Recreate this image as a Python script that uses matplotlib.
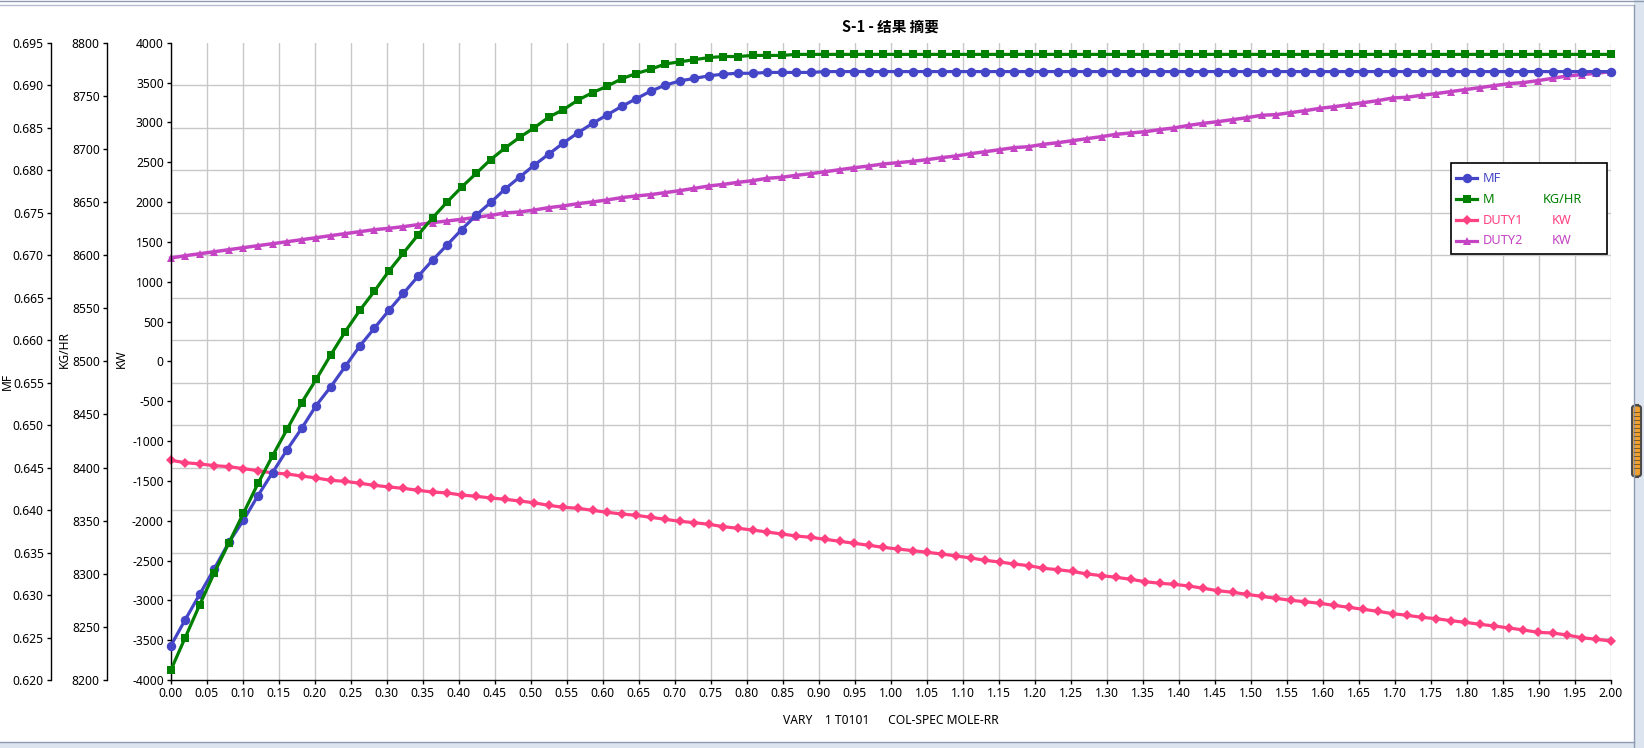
import numpy as np
import matplotlib
matplotlib.use('Agg')
import matplotlib.pyplot as plt
from matplotlib.lines import Line2D
from matplotlib.patches import Rectangle, FancyBboxPatch
from matplotlib.ticker import FormatStrFormatter

plt.rcParams['font.family'] = ['Noto Sans', 'Noto Sans CJK SC', 'DejaVu Sans']
plt.rcParams['axes.unicode_minus'] = False

# sweep: COL-SPEC MOLE-RR from 0 to 2, 100 points
rr = np.linspace(0.0, 2.0, 100)

mf = [0.6240, 0.6271, 0.6301, 0.6331, 0.6362, 0.6388, 0.6417, 0.6444, 0.6471, 0.6496,
      0.6523, 0.6545, 0.6569, 0.6593, 0.6614, 0.6635, 0.6655, 0.6675, 0.6694, 0.6712,
      0.6730, 0.6747, 0.6762, 0.6778, 0.6792, 0.6806, 0.6819, 0.6832, 0.6844, 0.6855,
      0.6865, 0.6875, 0.6884, 0.6893, 0.6900, 0.6905, 0.6908, 0.6911, 0.6913, 0.6914,
      0.6914, 0.6915, 0.6915, 0.6915, 0.6915, 0.6916, 0.6916, 0.6916, 0.6916, 0.6916,
      0.6916, 0.6916, 0.6916, 0.6916, 0.6916, 0.6916, 0.6916, 0.6916, 0.6916, 0.6916,
      0.6916, 0.6916, 0.6916, 0.6916, 0.6916, 0.6916, 0.6916, 0.6916, 0.6916, 0.6916,
      0.6916, 0.6916, 0.6916, 0.6916, 0.6916, 0.6916, 0.6916, 0.6916, 0.6916, 0.6916,
      0.6916, 0.6916, 0.6916, 0.6916, 0.6916, 0.6916, 0.6916, 0.6916, 0.6916, 0.6916,
      0.6916, 0.6916, 0.6916, 0.6916, 0.6916, 0.6916, 0.6916, 0.6916, 0.6916, 0.6916]

m_kghr = [8209, 8240, 8271, 8301, 8329, 8357, 8385, 8411, 8436, 8461,
          8483, 8506, 8528, 8548, 8566, 8585, 8602, 8619, 8635, 8650,
          8664, 8677, 8690, 8701, 8711, 8720, 8730, 8737, 8746, 8753,
          8759, 8766, 8771, 8775, 8780, 8782, 8784, 8786, 8787, 8787,
          8788, 8788, 8788, 8789, 8789, 8789, 8789, 8789, 8789, 8789,
          8789, 8789, 8789, 8789, 8789, 8789, 8789, 8789, 8789, 8789,
          8789, 8789, 8789, 8789, 8789, 8789, 8789, 8789, 8789, 8789,
          8789, 8789, 8789, 8789, 8789, 8789, 8789, 8789, 8789, 8789,
          8789, 8789, 8789, 8789, 8789, 8789, 8789, 8789, 8789, 8789,
          8789, 8789, 8789, 8789, 8789, 8789, 8789, 8789, 8789, 8789]

duty1 = [-1242, -1272, -1288, -1309, -1322, -1347, -1372, -1401, -1414, -1439,
         -1464, -1494, -1506, -1531, -1556, -1577, -1594, -1619, -1640, -1652,
         -1678, -1694, -1715, -1732, -1753, -1776, -1808, -1832, -1845, -1870,
         -1895, -1916, -1933, -1958, -1983, -2008, -2025, -2046, -2075, -2096,
         -2117, -2142, -2167, -2192, -2209, -2234, -2259, -2284, -2309, -2335,
         -2356, -2376, -2397, -2418, -2443, -2468, -2498, -2519, -2544, -2565,
         -2598, -2615, -2638, -2669, -2690, -2711, -2736, -2766, -2786, -2799,
         -2820, -2849, -2879, -2899, -2925, -2950, -2975, -3000, -3017, -3038,
         -3063, -3088, -3113, -3138, -3167, -3188, -3213, -3230, -3255, -3276,
         -3301, -3322, -3347, -3372, -3402, -3410, -3435, -3469, -3489, -3510]

duty2 = [1297, 1326, 1351, 1376, 1402, 1427, 1452, 1477, 1502, 1527,
         1552, 1578, 1603, 1628, 1653, 1670, 1691, 1716, 1741, 1762,
         1783, 1808, 1833, 1863, 1875, 1900, 1930, 1951, 1980, 2001,
         2026, 2055, 2076, 2093, 2118, 2143, 2172, 2201, 2222, 2247,
         2268, 2298, 2310, 2335, 2356, 2381, 2406, 2431, 2452, 2478,
         2494, 2511, 2532, 2557, 2578, 2607, 2632, 2657, 2683, 2695,
         2725, 2745, 2770, 2796, 2821, 2850, 2867, 2883, 2909, 2930,
         2963, 2988, 3009, 3034, 3059, 3089, 3097, 3122, 3147, 3176,
         3197, 3222, 3247, 3273, 3306, 3315, 3340, 3361, 3386, 3411,
         3436, 3461, 3486, 3499, 3524, 3553, 3582, 3599, 3616, 3637]

names = ['MF', 'M', 'DUTY1', 'DUTY2']
units = ['', 'KG/HR', 'KW', 'KW']

BLUE = '#4545C8'
GREEN = '#008000'
PINK = '#FF4081'
MAG = '#C444C4'
GRID = '#C8C8C8'
FS = 8.7

W, H = 1644, 748
fig = plt.figure(figsize=(W / 100, H / 100), dpi=100)


def fx(px):
    return px / W


def fy(py):
    return 1 - py / H


ax = fig.add_axes([fx(170.7), fy(680), 1440 / W, 637.3 / H])
ax_mf = ax.twinx()
ax_m = ax.twinx()

ax.set_xlim(0, 2)
ax.set_ylim(-4000, 4000)
ax_mf.set_ylim(0.620, 0.695)
ax_m.set_ylim(8200, 8800)

xt = np.arange(0, 2.001, 0.05)
ax.set_xticks(xt)
ax.set_xticklabels(['%.2f' % v for v in xt])
ax.set_yticks(np.arange(-4000, 4001, 500))
mf_ticks = np.arange(0.620, 0.6951, 0.005)
ax_mf.set_yticks(mf_ticks)
ax_mf.yaxis.set_major_formatter(FormatStrFormatter('%.3f'))
ax_m.set_yticks(np.arange(8200, 8801, 50))

# horizontal grid follows the MF axis ticks
kw_grid = -4000 + (mf_ticks - 0.620) / 0.075 * 8000
ax.set_yticks(kw_grid, minor=True)
ax.tick_params(axis='y', which='minor', length=0)
ax.grid(True, which='minor', axis='y', color=GRID, lw=1)
ax.grid(True, which='major', axis='x', color=GRID, lw=1)
ax.set_axisbelow(True)

ax.spines['top'].set_visible(False)
ax.spines['right'].set_visible(False)
for a, pos in ((ax_mf, -120 / 1440), (ax_m, -64 / 1440)):
    a.yaxis.tick_left()
    a.yaxis.set_label_position('left')
    a.spines['left'].set_visible(True)
    a.spines['left'].set_position(('axes', pos))
    for s in ('right', 'top', 'bottom'):
        a.spines[s].set_visible(False)

for a in (ax, ax_mf, ax_m):
    a.tick_params(which='major', length=3, width=1, labelsize=FS, pad=2,
                  color='black', labelcolor='black')
    for s in a.spines.values():
        s.set_linewidth(1)

ax.set_ylabel('KW', fontsize=FS)
ax.yaxis.set_label_coords((128 - 170.7) / 1440, 0.504)
ax_m.set_ylabel('KG/HR', fontsize=FS)
ax_m.yaxis.set_label_coords((71 - 170.7) / 1440, 0.518)
ax_mf.set_ylabel('MF', fontsize=FS)
ax_mf.yaxis.set_label_coords((14 - 170.7) / 1440, 0.468)
ax.set_xlabel('VARY    1 T0101      COL-SPEC MOLE-RR', fontsize=FS)
ax.xaxis.set_label_coords(0.5, -0.0535)

# data
ax.plot(rr, duty1, color=PINK, lw=2.3, marker='D', ms=5.2, mew=0, clip_on=False)
ax.plot(rr, duty2, color=MAG, lw=2.5, marker='^', ms=6.0, mew=0, clip_on=False)
ax_mf.plot(rr, mf, color=BLUE, lw=2.3, marker='o', ms=6.8, mew=0, clip_on=False)
ax_m.plot(rr, m_kghr, color=GREEN, lw=2.3, marker='s', ms=6.4, mew=0, clip_on=False)

fig.text(fx(890.7), fy(27), 'S-1 - 结果 摘要', ha='center', va='center',
         fontsize=10.5, fontweight='bold',
         family=['Noto Sans CJK SC', 'DejaVu Sans'])

# legend box
fig.add_artist(Rectangle((fx(1450.7), fy(254.3)), 156 / W, 91 / H,
                         transform=fig.transFigure, facecolor='white',
                         edgecolor='black', lw=1.2, zorder=5))
styles = [(BLUE, 'o', 6.8), (GREEN, 's', 6.4), (PINK, 'D', 5.2), (MAG, '^', 6.0)]
rows = [178.3, 199.3, 220.3, 240.7]
for (c, mk, ms), name, unit, ry in zip(styles, names, units, rows):
    fig.add_artist(Line2D([fx(1456), fx(1477)], [fy(ry), fy(ry)],
                          transform=fig.transFigure, color=c, lw=2.3, zorder=6))
    fig.add_artist(Line2D([fx(1466.5)], [fy(ry)], transform=fig.transFigure,
                          color=c, marker=mk, ms=ms, mew=0, zorder=6))
    fig.text(fx(1482.7), fy(ry), name, color=c, fontsize=9.2, ha='left',
             va='center', zorder=6)
    if unit:
        fig.text(fx(1562), fy(ry), unit, color=c, fontsize=9.2, ha='center',
                 va='center', zorder=6)

# window frame
fig.add_artist(Line2D([0, 1], [fy(1), fy(1)], transform=fig.transFigure,
                      color='#8E9AB0', lw=1))
fig.add_artist(Line2D([0, fx(1634)], [fy(5), fy(5)], transform=fig.transFigure,
                      color='#B4BED0', lw=1))
fig.add_artist(Rectangle((fx(1634), 0), 10 / W, 1, transform=fig.transFigure,
                         facecolor='#DCE4EF', edgecolor='none'))
fig.add_artist(Line2D([fx(1634), fx(1634)], [0, fy(5)], transform=fig.transFigure,
                      color='#8E9AB0', lw=1))
fig.add_artist(Rectangle((0, 0), 1, 6 / H, transform=fig.transFigure,
                         facecolor='#DCE4EF', edgecolor='none'))
fig.add_artist(Line2D([0, fx(1634)], [fy(742), fy(742)], transform=fig.transFigure,
                      color='#8E9AB0', lw=1))
fig.add_artist(FancyBboxPatch((fx(1632), fy(477)), 9 / W, 72 / H,
                              boxstyle='round,pad=0,rounding_size=0.004',
                              transform=fig.transFigure, facecolor='#F0A030',
                              edgecolor='#4A4A4A', lw=1.5))
for sy in np.arange(412, 472, 4):
    fig.add_artist(Line2D([fx(1633.5), fx(1639.5)], [fy(sy), fy(sy)],
                          transform=fig.transFigure, color='#6A5020', lw=0.6))

fig.savefig('out.png', dpi=100)
